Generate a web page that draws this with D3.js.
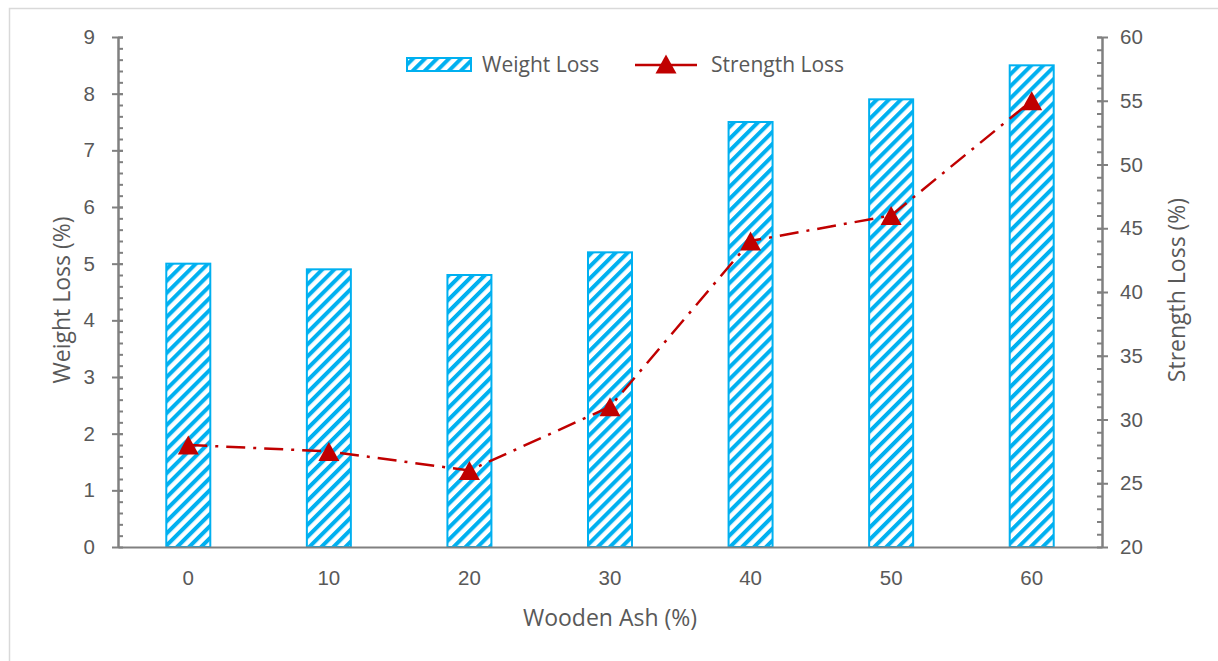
<!DOCTYPE html>
<html>
<head>
<meta charset="utf-8">
<script src="https://cdn.jsdelivr.net/npm/d3@7/dist/d3.min.js"></script>
<style>
  html, body { margin: 0; padding: 0; background: #fff; }
  svg { display: block; font-family: "Open Sans", sans-serif; }
</style>
</head>
<body>
<svg id="chart" width="1218" height="661"></svg>
<script>
// Wooden ash content vs. weight loss and strength loss
const categories = [0, 10, 20, 30, 40, 50, 60];
const weightLoss = [5.0, 4.9, 4.8, 5.2, 7.5, 7.9, 8.5];
const strengthLoss = [28, 27.5, 26, 31, 44, 46, 55];
const leftTicks = [0, 1, 2, 3, 4, 5, 6, 7, 8, 9];
const rightTicks = [20, 25, 30, 35, 40, 45, 50, 55, 60];

const W = 1218, H = 661;
const plot = { left: 118, right: 1102, top: 37, bottom: 547 };
const axisColor = "#808080";
const textColor = "#595959";
const barColor = "#00B0F0";
const lineColor = "#C00000";

const svg = d3.select("#chart");

// chart frame
svg.append("rect")
  .attr("x", 9.5).attr("y", 8.5)
  .attr("width", W).attr("height", H)
  .attr("fill", "#fff").attr("stroke", "#d9d9d9").attr("stroke-width", 1.5);

// diagonal hatch fill for the bars
const defs = svg.append("defs");
const pat = defs.append("pattern")
  .attr("id", "hatch")
  .attr("patternUnits", "userSpaceOnUse")
  .attr("width", 8.5).attr("height", 8.5)
  .attr("patternTransform", "rotate(45)");
pat.append("rect").attr("width", 8.5).attr("height", 8.5).attr("fill", "#fff");
pat.append("rect").attr("x", 0).attr("y", 0).attr("width", 4).attr("height", 8.5).attr("fill", barColor);

const x = d3.scaleBand().domain(categories).range([plot.left, plot.right]).paddingInner(0).paddingOuter(0);
const y = d3.scaleLinear().domain([0, 9]).range([plot.bottom, plot.top]);
const y2 = d3.scaleLinear().domain([20, 60]).range([plot.bottom, plot.top]);
const barW = 44;

// bars
svg.append("g").selectAll("rect")
  .data(categories)
  .join("rect")
  .attr("x", (d) => x(d) + x.bandwidth() / 2 - barW / 2)
  .attr("y", (d, i) => y(weightLoss[i]))
  .attr("width", barW)
  .attr("height", (d, i) => y(0) - y(weightLoss[i]))
  .attr("fill", "url(#hatch)")
  .attr("stroke", barColor)
  .attr("stroke-width", 2);

function styleAxis(g) {
  g.select(".domain").attr("stroke", axisColor).attr("stroke-width", 2);
  g.selectAll(".tick line").attr("stroke", axisColor).attr("stroke-width", 2);
  g.selectAll(".tick text").attr("fill", textColor).attr("font-size", 20.5);
}

// left axis: minor ticks inside, major ticks crossing outward
svg.append("g")
  .attr("transform", `translate(${plot.left},0)`)
  .call(d3.axisRight(y).tickValues(d3.range(0, 45).map((i) => i * 0.2 + 0.2).filter((v) => v < 9.01)).tickSize(5).tickFormat("").tickSizeOuter(0))
  .call(styleAxis);
svg.append("g")
  .attr("transform", `translate(${plot.left},0)`)
  .call(d3.axisLeft(y).tickValues(leftTicks).tickSize(6).tickPadding(17).tickSizeOuter(0).tickFormat(d3.format("d")))
  .call(styleAxis)
  .call((g) => g.selectAll(".tick line").attr("x2", 5).attr("x1", -6));

// right axis
svg.append("g")
  .attr("transform", `translate(${plot.right},0)`)
  .call(d3.axisLeft(y2).tickValues(d3.range(21, 61)).tickSize(5).tickFormat("").tickSizeOuter(0))
  .call(styleAxis);
svg.append("g")
  .attr("transform", `translate(${plot.right},0)`)
  .call(d3.axisRight(y2).tickValues(rightTicks).tickSize(6).tickPadding(12).tickSizeOuter(0).tickFormat(d3.format("d")))
  .call(styleAxis)
  .call((g) => g.selectAll(".tick line").attr("x1", -5).attr("x2", 6));

// x axis
svg.append("g")
  .attr("transform", `translate(0,${plot.bottom})`)
  .call(d3.axisBottom(x).tickSize(0).tickPadding(23).tickSizeOuter(0))
  .call(styleAxis);

// strength loss line
const cx = (d) => x(d) + x.bandwidth() / 2;
const line = d3.line().x((d, i) => cx(categories[i])).y((d) => y2(d));
svg.append("path")
  .datum(strengthLoss)
  .attr("d", line)
  .attr("fill", "none")
  .attr("stroke", lineColor)
  .attr("stroke-width", 2.5)
  .attr("stroke-dasharray", "19,8,3,8");

const tri = "M0,-9.5L10.5,9.5L-10.5,9.5Z";
svg.append("g").selectAll("path")
  .data(strengthLoss)
  .join("path")
  .attr("d", tri)
  .attr("transform", (d, i) => `translate(${cx(categories[i])},${y2(d)})`)
  .attr("fill", lineColor);

// axis titles
const titleSize = 23;
svg.append("text")
  .attr("transform", "translate(70,300) rotate(-90)")
  .attr("text-anchor", "middle")
  .attr("fill", textColor).attr("font-size", titleSize)
  .text("Weight Loss (%)");
svg.append("text")
  .attr("transform", "translate(1185,290) rotate(-90)")
  .attr("text-anchor", "middle")
  .attr("fill", textColor).attr("font-size", titleSize)
  .text("Strength Loss (%)");
svg.append("text")
  .attr("x", 610).attr("y", 626)
  .attr("text-anchor", "middle")
  .attr("fill", textColor).attr("font-size", titleSize)
  .text("Wooden Ash (%)");

// legend
const lg = svg.append("g");
lg.append("rect")
  .attr("x", 407).attr("y", 58).attr("width", 64).attr("height", 13)
  .attr("fill", "url(#hatch)").attr("stroke", barColor).attr("stroke-width", 2);
lg.append("text")
  .attr("x", 482).attr("y", 72)
  .attr("fill", textColor).attr("font-size", 21)
  .text("Weight Loss");
lg.append("line")
  .attr("x1", 635).attr("x2", 697).attr("y1", 65).attr("y2", 65)
  .attr("stroke", lineColor).attr("stroke-width", 2.5);
lg.append("path")
  .attr("d", tri)
  .attr("transform", "translate(666,64)")
  .attr("fill", lineColor);
lg.append("text")
  .attr("x", 711).attr("y", 72)
  .attr("fill", textColor).attr("font-size", 21)
  .text("Strength Loss");
</script>
</body>
</html>
